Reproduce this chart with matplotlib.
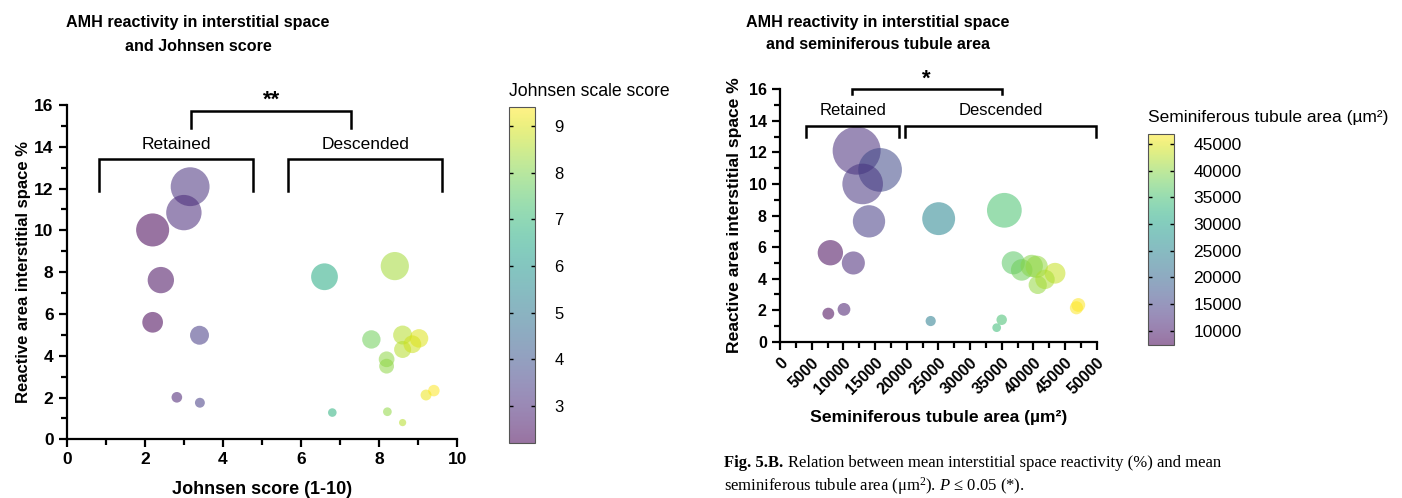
import numpy as np
import matplotlib
matplotlib.use("Agg")
import matplotlib.pyplot as plt
from matplotlib import font_manager
from matplotlib.colors import ListedColormap, Normalize
from matplotlib.cm import ScalarMappable
from matplotlib.ticker import MultipleLocator

# ---------------- data ----------------
johnsen = [3.16, 3.0, 2.2, 2.41, 2.2, 3.4, 2.82, 3.41, 6.6, 8.4, 7.8, 8.6, 8.19, 8.19,
           8.6, 8.85, 9.02, 9.2, 9.4, 6.8, 8.21, 8.6]
react_left = [12.09, 10.85, 10.02, 7.62, 5.6, 4.98, 2.01, 1.75, 7.78, 8.29, 4.78, 4.99, 3.83, 3.5,
              4.3, 4.55, 4.83, 2.12, 2.33, 1.28, 1.32, 0.8]

tubule_area = [12100, 15800, 13050, 14050, 7950, 11580, 7630, 10100, 25050, 35420, 36830, 38160,
               39740, 40530, 43420, 40690, 41840, 46800, 47100, 23790, 35000, 34210]
react_right = [12.11, 10.89, 10.0, 7.63, 5.64, 4.99, 1.78, 2.05, 7.8, 8.33, 5.0, 4.55, 4.8, 4.75,
               4.34, 3.6, 3.95, 2.15, 2.33, 1.31, 1.39, 0.89]

left_title = "AMH reactivity in interstitial space\nand Johnsen score"
right_title = "AMH reactivity in interstitial space\nand seminiferous tubule area"
ylabel = "Reactive area interstitial space %"
left_xlabel = "Johnsen score (1-10)"
right_xlabel = "Seminiferous tubule area (µm²)"
left_cbar_label = "Johnsen scale score"
right_cbar_label = "Seminiferous tubule area (µm²)"
left_cbar_ticks = [3, 4, 5, 6, 7, 8, 9]
right_cbar_ticks = [10000, 15000, 20000, 25000, 30000, 35000, 40000, 45000]
right_xticks = list(range(0, 50001, 5000))

# ---------------- fonts ----------------
def has_font(name):
    try:
        font_manager.findfont(name, fallback_to_default=False)
        return True
    except Exception:
        return False

sans = "Liberation Sans" if has_font("Liberation Sans") else "DejaVu Sans"
narrow = "Liberation Sans Narrow" if has_font("Liberation Sans Narrow") else sans
serif = "Liberation Serif" if has_font("Liberation Serif") else "DejaVu Serif"
plt.rcParams['font.family'] = [sans, 'DejaVu Sans']
plt.rcParams['mathtext.fontset'] = 'custom'
plt.rcParams['mathtext.rm'] = serif
plt.rcParams['mathtext.it'] = serif + ':italic'
plt.rcParams['mathtext.bf'] = serif + ':bold'

ALPHA = 0.55
base = plt.get_cmap('viridis')
cols = base(np.linspace(0, 1, 256))
faded = cols.copy()
faded[:, :3] = cols[:, :3] * ALPHA + (1 - ALPHA)
faded_cmap = ListedColormap(faded)

fig = plt.figure(figsize=(14.02, 4.98), dpi=100)
W, H = 1402, 498

def ax_rect(x0, x1, ytop, ybot):
    return [x0 / W, 1 - ybot / H, (x1 - x0) / W, (ybot - ytop) / H]

def style_axes(ax, tick_size):
    for s in ['top', 'right']:
        ax.spines[s].set_visible(False)
    for s in ['left', 'bottom']:
        ax.spines[s].set_linewidth(1.6)
    ax.tick_params(which='major', direction='out', length=6, width=1.6, labelsize=tick_size)
    ax.tick_params(which='minor', direction='out', length=4, width=1.6)
    for lab in ax.get_xticklabels() + ax.get_yticklabels():
        lab.set_fontweight('bold')

def radius_pts(y, a, b):
    r_px = a * np.asarray(y) + b
    return (2 * r_px * 0.72) ** 2

def bracket(ax, x0, x1, ytop, ybot, lw=1.8):
    ax.plot([x0, x0, x1, x1], [ybot, ytop, ytop, ybot], color='black', lw=lw,
            clip_on=False, solid_joinstyle='miter')

# ---------------- left panel ----------------
axL = fig.add_axes(ax_rect(66.7, 457.3, 105, 439.3))
normL = Normalize(vmin=2.2, vmax=9.4)
axL.scatter(johnsen, react_left, s=radius_pts(react_left, 1.4, 2.5), c=johnsen,
            cmap='viridis', norm=normL, alpha=ALPHA, edgecolors='none', clip_on=False)
axL.set_xlim(0, 10)
axL.set_ylim(0, 16)
axL.xaxis.set_major_locator(MultipleLocator(2))
axL.xaxis.set_minor_locator(MultipleLocator(1))
axL.yaxis.set_major_locator(MultipleLocator(2))
axL.yaxis.set_minor_locator(MultipleLocator(1))
style_axes(axL, 12.5)
axL.set_xlabel(left_xlabel, fontsize=13, fontweight='bold', labelpad=10)
axL.set_ylabel(ylabel, fontsize=12, fontweight='bold', labelpad=2.5)

bracket(axL, 3.17, 7.27, 15.72, 14.88)
axL.text(5.25, 15.75, "**", ha='center', va='bottom', fontsize=16, fontweight='bold')
bracket(axL, 0.83, 4.78, 13.42, 11.9)
bracket(axL, 5.67, 9.62, 13.42, 11.9)
axL.text(2.82, 14.13, "Retained", ha='center', va='center', fontsize=12.5)
axL.text(7.64, 14.13, "Descended", ha='center', va='center', fontsize=12.5)

fig.text(198 / W, 1 - 34.5 / H, left_title, ha='center', va='center', fontsize=11.6,
         fontweight='bold', family=narrow, linespacing=1.75)

caxL = fig.add_axes(ax_rect(509, 535, 107.5, 443.3))
cbL = fig.colorbar(ScalarMappable(norm=normL, cmap=faded_cmap), cax=caxL, ticks=left_cbar_ticks)
cbL.outline.set_edgecolor('#555555')
cbL.outline.set_linewidth(0.8)
caxL.tick_params(direction='in', left=True, right=True, length=3, width=1, labelsize=12, pad=14)
fig.text(509 / W, 1 - 91 / H, left_cbar_label, ha='left', va='center', fontsize=12.7)

# ---------------- right panel ----------------
axR = fig.add_axes(ax_rect(780, 1096.7, 89.3, 341.7))
normR = Normalize(vmin=7300, vmax=46900)
axR.scatter(tubule_area, react_right, s=radius_pts(react_right, 1.75, 2.8), c=tubule_area,
            cmap='viridis', norm=normR, alpha=ALPHA, edgecolors='none', clip_on=False)
axR.set_xlim(0, 50000)
axR.set_ylim(0, 16)
axR.set_xticks(right_xticks)
axR.xaxis.set_minor_locator(MultipleLocator(2500))
axR.yaxis.set_major_locator(MultipleLocator(2))
axR.yaxis.set_minor_locator(MultipleLocator(1))
style_axes(axR, 11.5)
for lab in axR.get_xticklabels():
    lab.set_rotation(45)
    lab.set_ha('right')
    lab.set_rotation_mode('anchor')
axR.set_xlabel(right_xlabel, fontsize=12.6, fontweight='bold', labelpad=9)
axR.set_ylabel(ylabel, fontsize=12.6, fontweight='bold', labelpad=5)

bracket(axR, 11316, 35105, 16.02, 15.7)
axR.text(23158, 16.0, "*", ha='center', va='bottom', fontsize=16, fontweight='bold')
bracket(axR, 4053, 18789, 13.7, 13.0)
bracket(axR, 19737, 49895, 13.7, 13.0)
axR.text(11474, 14.65, "Retained", ha='center', va='center', fontsize=12)
axR.text(34895, 14.65, "Descended", ha='center', va='center', fontsize=12)

fig.text(878 / W, 1 - 33.5 / H, right_title, ha='center', va='center', fontsize=11.6,
         fontweight='bold', family=narrow, linespacing=1.65)

caxR = fig.add_axes(ax_rect(1148, 1174, 134, 345))
cbR = fig.colorbar(ScalarMappable(norm=normR, cmap=faded_cmap), cax=caxR, ticks=right_cbar_ticks)
cbR.outline.set_edgecolor('#555555')
cbR.outline.set_linewidth(0.8)
caxR.tick_params(direction='in', left=True, right=True, length=3, width=1, labelsize=12.5, pad=14)
fig.text(1148 / W, 1 - 117 / H, right_cbar_label, ha='left', va='center', fontsize=12.5)

# ---------------- caption ----------------
fig.canvas.draw()
r = fig.canvas.get_renderer()
t1 = fig.text(724 / W, 1 - 463 / H, "Fig. 5.B.", ha='left', va='center', fontsize=12,
              fontweight='bold', family=serif)
bb = t1.get_window_extent(renderer=r)
fig.text((bb.x1 + 5) / W, 1 - 463 / H,
         "Relation between mean interstitial space reactivity (%) and mean",
         ha='left', va='center', fontsize=12, family=serif)
fig.text(724 / W, 1 - 486 / H,
         r"seminiferous tubule area (μm$^{2}$). $P$ ≤ 0.05 (*).",
         ha='left', va='center', fontsize=12, family=serif)

fig.savefig("out.png", dpi=100)
